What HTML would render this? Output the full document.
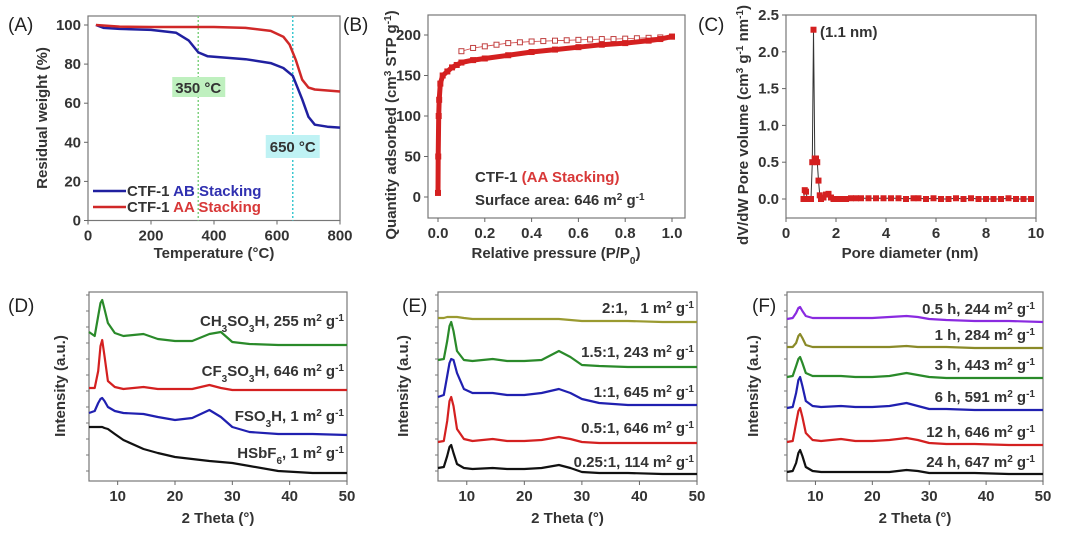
<!DOCTYPE html>
<html><head><meta charset="utf-8">
<style>
html,body{margin:0;padding:0;background:#fff;}
svg{display:block;font-family:"Liberation Sans",Arial,sans-serif;}
.tk{font-size:15px;font-weight:bold;fill:#333;}
.ttl{font-size:15px;font-weight:bold;fill:#333;}
.pl{font-size:19px;fill:#222;}
</style></head>
<body>
<svg id="fig" width="1080" height="542" viewBox="0 0 1080 542" xmlns="http://www.w3.org/2000/svg"></svg>
<script>
// ---- Panel A data (TGA) ----
const tgaTempAB=[25,50,100,200,280,320,350,380,420,500,580,620,650,680,700,720,760,800];
const tgaWeightAB=[100,98.5,98,97.5,96,92,86,84,83.5,82.5,80.5,78,74,62,53,49,48,47.5];
const tgaTempAA=[25,100,200,300,400,500,580,620,640,660,680,700,720,760,800];
const tgaWeightAA=[100,99.2,99,99,99,98.5,97,94,90,82,72,68,67,66.5,66];
const tgaXTicks=[0,200,400,600,800];
const tgaYTicks=[0,20,40,60,80,100];
const tgaMarkers=[350,650];
// ---- Panel B data (isotherm) ----
const adsP=[0,0.001,0.003,0.005,0.01,0.02,0.04,0.06,0.08,0.1,0.15,0.2,0.3,0.4,0.5,0.6,0.7,0.8,0.9,0.95,1.0];
const adsQ=[5,50,100,120,140,150,155,160,163,166,169,171,175,179,182,185,188,190,193,195,198];
const desP=[0.1,0.15,0.2,0.25,0.3,0.35,0.4,0.45,0.5,0.55,0.6,0.65,0.7,0.75,0.8,0.85,0.9,0.95,1.0];
const desQ=[180,184,186,188,190,191,192,192.5,193,193.5,194,194.5,195,195,195.5,196,196.5,197,198];
const isoXTicks=[0,0.2,0.4,0.6,0.8,1.0];
const isoYTicks=[0,50,100,150,200];
// ---- Panel C data (PSD) ----
const poreD=[0.7,0.75,0.8,0.85,0.9,0.95,1.0,1.05,1.1,1.15,1.2,1.25,1.3,1.35,1.4,1.5,1.6,1.7,1.8,1.9,2.0,2.2,2.4,2.6,2.8,3.0,3.3,3.6,3.9,4.2,4.5,4.8,5.1,5.3,5.6,5.9,6.2,6.5,6.8,7.1,7.4,7.7,8.0,8.3,8.6,8.9,9.2,9.5,9.8];
const poreV=[0,0.12,0.1,0,0,0,0,0.5,2.3,0.55,0.55,0.5,0.25,0.05,0,0.02,0.06,0.07,0.02,0,0,0,0,0.01,0.01,0.01,0.01,0.01,0.01,0.01,0.01,0,0.01,0.01,0,0.01,0,0,0.01,0,0.01,0,0,0,0,0.01,0,0,0];
const psdXTicks=[0,2,4,6,8,10];
const psdYTicks=[0,0.5,1.0,1.5,2.0,2.5];
// ---- XRD common 2theta grid ----
const twoTheta=[5,6,6.6,7.0,7.3,7.7,8.3,9.5,11,14.5,17,20,23,26,28,30,33,38,44,50];
const xrdXTicks=[10,20,30,40,50];
// Panel D
const dCH3=[149,145,165,178,181,172,158,148,145,147,142,140,140,147,149,139,137,136,136,136];
const dCF3=[93,93,110,135,141,125,100,94,92,94,92,92,92,96,93,91,91,91,91,91];
const dFSO3=[68,70,78,82,83,80,74,70,68,67,64,61,63,71,64,54,49,47,47,46];
const dHSbF6=[54,54,54,54,54,53,52,47,41,32,28,24,22,20,19,18,15,10,8,8];
// Panel E
const e2to1=[163,163,164,164,164,164,164,163,162,162,162,162,162,162,161,160,160,160,159,159];
const e15to1=[121,122,140,155,159,150,130,121,120,122,120,120,121,130,124,116,115,114,114,114];
const e1to1=[84,86,105,118,122,121,108,92,88,88,86,86,88,92,88,82,78,76,76,76];
const e05to1=[39,40,60,80,84,75,52,42,40,42,40,40,41,44,42,39,38,38,38,38];
const e025to1=[13,14,25,34,36,28,17,13,12,13,12,12,13,16,13,9,8,8,7,7];
// Panel F
const f05h=[162,163,168,173,174,170,165,163,163,163,163,163,164,165,164,162,161,160,160,159];
const f1h=[134,134,138,145,147,143,136,134,134,134,134,134,134,135,134,134,134,133,133,133];
const f3h=[104,105,115,122,124,118,108,105,105,105,104,104,105,108,106,104,103,103,103,103];
const f6h=[73,74,88,101,104,95,80,75,74,75,74,74,75,78,75,72,72,71,71,71];
const f12h=[39,40,58,70,73,64,48,41,40,42,40,40,41,43,41,38,37,37,36,36];
const f24h=[9,10,18,28,31,25,14,10,9,9,9,9,9,11,10,8,8,8,7,7];

const NS="http://www.w3.org/2000/svg";
const svg=document.getElementById('fig');
function mk(tag,attrs,parent){const e=document.createElementNS(NS,tag);for(const k in attrs)e.setAttribute(k,attrs[k]);(parent||svg).appendChild(e);return e;}
function lin(d0,d1,r0,r1){return v=>r0+(v-d0)*(r1-r0)/(d1-d0);}
function frame(x0,y0,x1,y1,name){
  const r=mk('rect',{x:x0,y:y0,width:x1-x0,height:y1-y0,fill:'none',stroke:'#777','stroke-width':1.2});
  
  
}
function text(x,y,s,cls,anchor,fill,name){
  const t=mk('text',{x:x,y:y,'class':cls,'text-anchor':anchor||'start'});
  if(fill)t.setAttribute('fill',fill);
  t.innerHTML=s;
  
  
  return t;
}
function xTicks(ticks,sx,yb,fmt,name){
  ticks.forEach(v=>{
    mk('line',{x1:sx(v),x2:sx(v),y1:yb,y2:yb+4,stroke:'#666'});
    text(sx(v),yb+20,fmt(v),'tk','middle',null,name);
  });
}
function yTicks(ticks,sy,xl,fmt,name){
  ticks.forEach(v=>{
    mk('line',{x1:xl-4,x2:xl,y1:sy(v),y2:sy(v),stroke:'#666'});
    text(xl-7,sy(v)+5,fmt(v),'tk','end',null,name);
  });
}
function path(xs,ys,sx,sy,color,w,name){
  let d='';xs.forEach((x,i)=>{d+=(i?'L':'M')+sx(x).toFixed(1)+','+sy(ys[i]).toFixed(1);});
  const p=mk('path',{d:d,fill:'none',stroke:color,'stroke-width':w,'stroke-linejoin':'round'});
  
  
  return p;
}
function sup(s){return '<tspan baseline-shift="super" font-size="10">'+s+'</tspan>';}
function sub(s){return '<tspan baseline-shift="sub" font-size="10">'+s+'</tspan>';}
function vtitle(x,y,s,name){const t=text(x,y,s,'ttl','middle',null,name);t.setAttribute('transform','rotate(-90 '+x+' '+y+')');}

// ===== Panel A =====
(function(){
  const sx=lin(0,800,88,340), sy=lin(0,100,220.5,25);
  frame(88,16,340,220.5,'panel-a-frame');
  tgaMarkers.forEach((m,i)=>{
    const l=mk('line',{x1:sx(m),x2:sx(m),y1:16,y2:220.5,stroke:i?'#3cc8d0':'#7fd27f','stroke-width':1.5,'stroke-dasharray':'2,2'});
    
    
  });
  const b1=mk('rect',{x:sx(350)-26,y:77,width:53,height:20,fill:'#bff0bf'});
  
  
  text(sx(350),93,'350 °C','ttl','middle','#1f5a1f','label-350c');
  const b2=mk('rect',{x:sx(650)-27,y:135,width:54,height:23,fill:'#bff2f4'});
  
  
  text(sx(650),152,'650 °C','ttl','middle','#1a4a55','label-650c');
  path(tgaTempAB,tgaWeightAB,sx,sy,'#2020a0',2.5,'series-ab-stacking');
  path(tgaTempAA,tgaWeightAA,sx,sy,'#d02828',2.5,'series-aa-stacking');
  xTicks(tgaXTicks,sx,220.5,v=>v,'x-tick-label');
  yTicks(tgaYTicks,sy,88,v=>v,'y-tick-label');
  mk('line',{x1:93,x2:126,y1:191,y2:191,stroke:'#2020a0','stroke-width':2.5});
  text(127,196,'CTF-1 <tspan fill="#3030b0">AB Stacking</tspan>','ttl','start','#222','legend-ab');
  mk('line',{x1:93,x2:126,y1:207,y2:207,stroke:'#d02828','stroke-width':2.5});
  text(127,212,'CTF-1 <tspan fill="#d83838">AA Stacking</tspan>','ttl','start','#222','legend-aa');
  text(214,258,'Temperature (°C)','ttl','middle',null,'x-axis-title-a');
  vtitle(47,118,'Residual weight (%)','y-axis-title-a');
  text(8,31,'(A)','pl','start',null,'panel-label-a');
})();

// ===== Panel B =====
(function(){
  const sx=lin(0,1,438,672), sy=lin(0,200,197,35);
  frame(428,15,685,218,'panel-b-frame');
  path(desP,desQ,sx,sy,'#d04040',0.8,'desorption-line');
  desP.forEach((p,i)=>{
    const r=mk('rect',{x:sx(p)-2.5,y:sy(desQ[i])-2.5,width:5,height:5,fill:'#fff',stroke:'#c04040','stroke-width':1});
    
    
  });
  path(adsP,adsQ,sx,sy,'#d42020',5,'adsorption-curve');
  adsP.forEach((p,i)=>{
    const r=mk('rect',{x:sx(p)-3,y:sy(adsQ[i])-3,width:6,height:6,fill:'#d42020'});
    
    
  });
  xTicks(isoXTicks,sx,218,v=>v.toFixed(1),'x-tick-label');
  yTicks(isoYTicks,sy,428,v=>v,'y-tick-label');
  text(475,182,'CTF-1 <tspan fill="#d83838">(AA Stacking)</tspan>','ttl','start','#222','sample-label-b');
  text(475,205,'Surface area: 646 m'+sup('2')+' g'+sup('-1'),'ttl','start','#222','surface-area-label');
  text(556,258,'Relative pressure (P/P'+sub('0')+')','ttl','middle',null,'x-axis-title-b');
  vtitle(396,125,'Quantity adsorbed (cm'+sup('3')+' STP g'+sup('-1')+')','y-axis-title-b');
  text(343,31,'(B)','pl','start',null,'panel-label-b');
})();

// ===== Panel C =====
(function(){
  const sx=lin(0,10,786,1036), sy=lin(0,2.5,199,15);
  frame(786,15,1036,218,'panel-c-frame');
  path(poreD,poreV,sx,sy,'#333',1,'psd-line');
  poreD.forEach((d,i)=>{
    const r=mk('rect',{x:sx(d)-3,y:sy(poreV[i])-3,width:6,height:6,fill:'#d42020'});
    
    
  });
  xTicks(psdXTicks,sx,218,v=>v,'x-tick-label');
  yTicks(psdYTicks,sy,786,v=>v.toFixed(1),'y-tick-label');
  text(820,37,'(1.1 nm)','ttl','start','#222','peak-label');
  text(910,258,'Pore diameter (nm)','ttl','middle',null,'x-axis-title-c');
  vtitle(748,125,'dV/dW Pore volume (cm'+sup('3')+' g'+sup('-1')+' nm'+sup('-1')+')','y-axis-title-c');
  text(698,31,'(C)','pl','start',null,'panel-label-c');
})();

// ===== XRD panels =====
function xrdPanel(x0,x1,series,labels,letter,lx,titleX){
  const sx=lin(5,50,x0,x1), sy=lin(0,189,481,292);
  frame(x0,292,x1,481,'panel-'+letter+'-frame');
  for(let v=10;v<189;v+=16){mk('line',{x1:x0-3,x2:x0,y1:sy(v),y2:sy(v),stroke:'#777'});}
  series.forEach(s=>{path(twoTheta,s.v,sx,sy,s.c,2.2,'xrd-'+letter+'-'+s.n);});
  labels.forEach(l=>{text(l.x,l.y,l.t,'ttl','end',l.c,'xrd-label-'+letter);});
  xTicks(xrdXTicks,sx,481,v=>v,'x-tick-label');
  text((x0+x1)/2,523,'2 Theta (°)','ttl','middle',null,'x-axis-title-'+letter);
  vtitle(titleX,386,'Intensity (a.u.)','y-axis-title-'+letter);
  text(lx,312,'('+letter.toUpperCase()+')','pl','start',null,'panel-label-'+letter);
}
const M=' m'+sup('2')+' g'+sup('-1');
xrdPanel(89,347,[
  {v:dCH3,c:'#2a8a2a',n:'ch3so3h'},{v:dCF3,c:'#d42020',n:'cf3so3h'},{v:dFSO3,c:'#2020b0',n:'fso3h'},{v:dHSbF6,c:'#111',n:'hsbf6'}],
  [{x:344,y:326,t:'CH'+sub('3')+'SO'+sub('3')+'H, 255'+M,c:'#2a8a2a'},
   {x:344,y:376,t:'CF'+sub('3')+'SO'+sub('3')+'H, 646'+M,c:'#d83030'},
   {x:344,y:421,t:'FSO'+sub('3')+'H, 1'+M,c:'#2525b0'},
   {x:344,y:458,t:'HSbF'+sub('6')+', 1'+M,c:'#222'}],'d',8,65);
xrdPanel(438,697,[
  {v:e2to1,c:'#9a9a30',n:'2to1'},{v:e15to1,c:'#2a8a2a',n:'1.5to1'},{v:e1to1,c:'#2020b0',n:'1to1'},{v:e05to1,c:'#d42020',n:'0.5to1'},{v:e025to1,c:'#111',n:'0.25to1'}],
  [{x:694,y:313,t:'2:1,&#160;&#160; 1'+M,c:'#8a8a28'},
   {x:694,y:357,t:'1.5:1, 243'+M,c:'#2a8a2a'},
   {x:694,y:397,t:'1:1, 645'+M,c:'#2525b0'},
   {x:694,y:433,t:'0.5:1, 646'+M,c:'#d83030'},
   {x:694,y:467,t:'0.25:1, 114'+M,c:'#222'}],'e',402,408);
xrdPanel(787,1043,[
  {v:f05h,c:'#8a2ae0',n:'0.5h'},{v:f1h,c:'#8a8a28',n:'1h'},{v:f3h,c:'#2a8a2a',n:'3h'},{v:f6h,c:'#2020b0',n:'6h'},{v:f12h,c:'#d42020',n:'12h'},{v:f24h,c:'#111',n:'24h'}],
  [{x:1035,y:314,t:'0.5 h, 244'+M,c:'#8a30d8'},
   {x:1035,y:340,t:'1 h, 284'+M,c:'#8a8a28'},
   {x:1035,y:370,t:'3 h, 443'+M,c:'#2a8a2a'},
   {x:1035,y:402,t:'6 h, 591'+M,c:'#2525b0'},
   {x:1035,y:437,t:'12 h, 646'+M,c:'#d83030'},
   {x:1035,y:467,t:'24 h, 647'+M,c:'#222'}],'f',752,758);
</script>
</body></html>
